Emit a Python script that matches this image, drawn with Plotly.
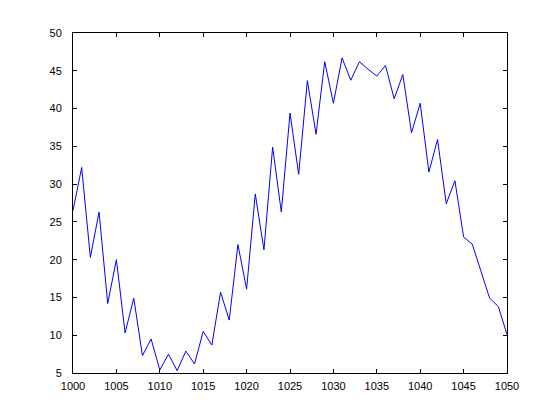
import plotly.graph_objects as go

x_vals = list(range(1000, 1051))
y_vals = [26.5, 32.2, 20.3, 26.3, 14.2, 20.0, 10.3, 14.9, 7.3, 9.5,
          5.4, 7.5, 5.3, 7.9, 6.2, 10.5, 8.7, 15.7, 12.0, 22.0,
          16.1, 28.7, 21.3, 34.9, 26.3, 39.4, 31.3, 43.7, 36.6, 46.2,
          40.7, 46.7, 43.75, 46.2, 45.2, 44.3, 45.7, 41.3, 44.5, 36.8,
          40.7, 31.6, 35.9, 27.4, 30.45, 23.0, 22.05, 18.5, 14.9, 13.8,
          10.1]
x_ticks = [1000, 1005, 1010, 1015, 1020, 1025, 1030, 1035, 1040, 1045, 1050]
y_ticks = [5, 10, 15, 20, 25, 30, 35, 40, 45, 50]

fig = go.Figure(go.Scatter(x=x_vals, y=y_vals, mode="lines",
                           line=dict(color="#0000ff", width=1)))

axis_common = dict(showline=True, linecolor="black", linewidth=1, mirror="ticks",
                   ticks="inside", ticklen=4, tickcolor="black", tickwidth=1,
                   showgrid=False, zeroline=False,
                   tickfont=dict(family="Liberation Sans, Arial", size=11, color="black"))

fig.update_layout(
    width=560, height=420,
    margin=dict(l=65, r=61, t=25, b=55),
    paper_bgcolor="white", plot_bgcolor="white",
    showlegend=False,
    xaxis=dict(range=[1000, 1050], tickvals=x_ticks, ticklabelstandoff=3, **axis_common),
    yaxis=dict(range=[5, 50], tickvals=y_ticks, ticklabelstandoff=8, **axis_common),
)

fig.write_html("out.html")
